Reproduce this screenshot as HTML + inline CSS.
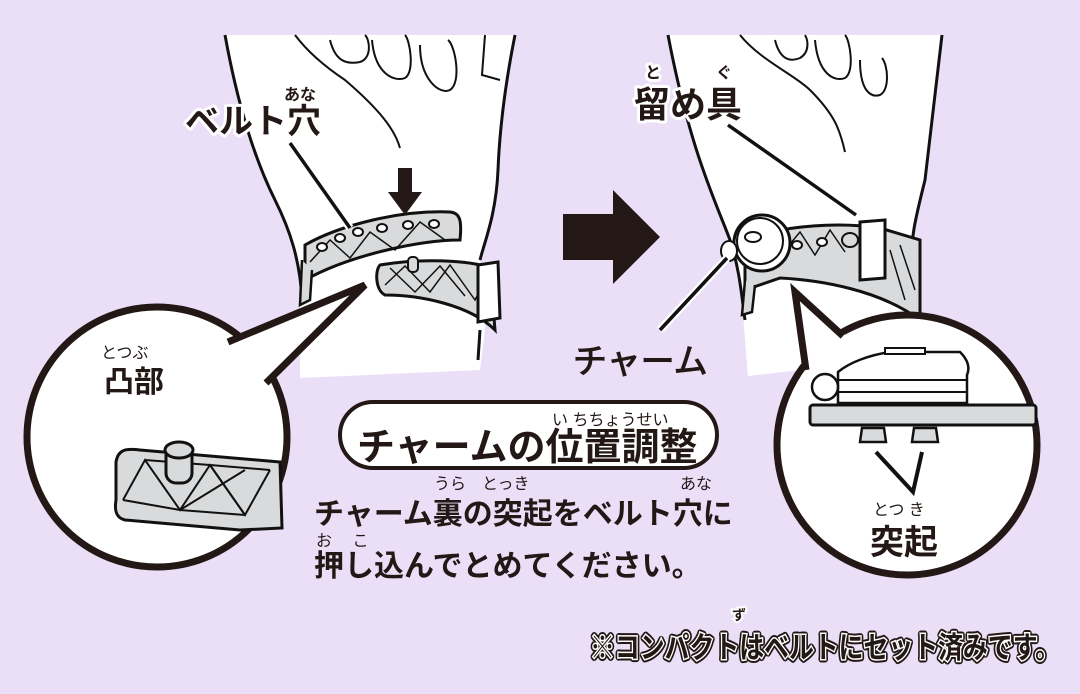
<!DOCTYPE html>
<html><head><meta charset="utf-8"><style>
html,body{margin:0;padding:0;background:#ebdff8;}
svg{display:block;}
text{font-family:"Liberation Sans","Noto Sans CJK JP",sans-serif;}
</style></head><body>
<svg width="1080" height="694" viewBox="0 0 1080 694" xmlns="http://www.w3.org/2000/svg">
<rect width="1080" height="694" fill="#ebdff8"/>
<!-- LEFT ARM -->
<path d="M225,35 L515,35 C508,70 500,120 498,170 C496,215 485,240 480,260 L485,330 L480,370 L300,378 L300,300 C300,260 290,230 275,200 C250,150 235,90 225,35 Z" fill="#fff"/>
<path d="M225,35 C235,90 250,150 275,200 C290,230 300,260 302,300" fill="none" stroke="#111" stroke-width="3"/>
<path d="M515,35 C508,70 500,120 498,170 C496,215 485,240 480,260" fill="none" stroke="#111" stroke-width="3"/>
<path d="M480,330 L478,360" stroke="#111" stroke-width="3"/>
<g fill="none" stroke="#111" stroke-width="2">
<path d="M295,35 C310,55 330,70 345,80 C380,110 395,130 400,148"/>
<path d="M330,40 C335,60 345,65 360,62 C372,58 370,40 365,35"/>
<path d="M372,40 C375,75 395,82 405,78 C415,72 410,40 405,35"/>
<path d="M420,45 C420,80 440,95 450,90 C462,82 455,45 448,40"/>
<path d="M485,35 L482,75 L500,80"/>
</g>
<path d="M305,245 C340,225 400,210 450,212 C460,213 462,220 460,240 C420,240 350,255 305,280 Z" fill="#d9dadb" stroke="#111" stroke-width="3"/>
<g stroke="#111" stroke-width="1.5" fill="none"><path d="M310,262 L330,240 L350,258 L370,232 L395,250 L420,222 L445,240"/></g>
<path d="M302,260 L300,305 L310,300 L312,270" fill="#d9dadb" stroke="#111" stroke-width="2.5"/>
<g fill="#fff" stroke="#111" stroke-width="2">
<ellipse cx="322" cy="247" rx="5" ry="4"/><ellipse cx="340" cy="238" rx="5" ry="4"/><ellipse cx="358" cy="232" rx="5" ry="4"/><ellipse cx="382" cy="228" rx="5" ry="4"/><ellipse cx="408" cy="225" rx="5" ry="4"/><ellipse cx="434" cy="224" rx="5" ry="4"/>
</g>
<path d="M380,265 C420,258 470,260 490,268 L495,330 C470,305 420,295 385,295 C375,290 375,270 380,265 Z" fill="#d9dadb" stroke="#111" stroke-width="3"/>
<g stroke="#111" stroke-width="1.5" fill="none"><path d="M385,285 L405,266 L430,292 L450,265 L475,300 L488,275"/><path d="M390,268 L415,292 L440,266 L465,296"/></g>
<rect x="408" y="257" width="10" height="15" rx="4" fill="#d9dadb" stroke="#111" stroke-width="2"/>
<path d="M478,265 L498,262 L500,318 L478,322 Z" fill="#fff" stroke="#111" stroke-width="3"/>
<path d="M398,168 L412,168 L412,192 L422,192 L405,215 L388,192 L398,192 Z" fill="#231815"/>
<line x1="290" y1="143" x2="350" y2="228" stroke="#fff" stroke-width="8"/>
<line x1="290" y1="143" x2="350" y2="228" stroke="#111" stroke-width="3.5"/>

<!-- LEFT BUBBLE -->
<circle cx="157" cy="437" r="130" fill="#fff" stroke="#231815" stroke-width="7"/>
<path d="M222,345 L365,285 L268,385 Z" fill="#fff"/>
<path d="M228,342 L365,285 L266,383" fill="none" stroke="#231815" stroke-width="7"/>
<path d="M116,462 C118,450 125,448 140,450 L280,462 L282,528 L240,530 L125,520 C117,518 114,512 116,500 Z" fill="#d9dadb" stroke="#111" stroke-width="3"/>
<g stroke="#111" stroke-width="2" fill="none">
<path d="M123,500 L145,460 L180,510 L210,465 L245,515 L270,470"/>
<path d="M123,500 L180,510 L245,515"/>
<path d="M145,460 L210,465 L270,470"/>
<path d="M180,510 L245,470 M210,465 L245,515"/>
</g>
<rect x="166" y="445" width="26" height="38" rx="10" fill="#d9dadb" stroke="#111" stroke-width="3"/>
<ellipse cx="179" cy="450" rx="14" ry="8" fill="#d9dadb" stroke="#111" stroke-width="3"/>

<path d="M563,214 L613,214 L613,190 L660,237 L613,284 L613,260 L563,260 Z" fill="#231815"/>

<!-- RIGHT ARM -->
<path d="M668,35 L942,35 C936,90 930,140 925,180 C915,220 910,240 915,270 L915,320 L800,370 L748,376 C742,300 740,270 730,240 C715,200 690,150 668,35 Z" fill="#fff"/>
<path d="M668,35 C690,150 715,200 730,240 C740,270 742,300 745,320" fill="none" stroke="#111" stroke-width="3"/>
<path d="M942,35 C936,90 930,140 925,180 C915,220 910,240 912,270" fill="none" stroke="#111" stroke-width="3"/>
<g fill="none" stroke="#111" stroke-width="2">
<path d="M740,35 C760,60 795,75 810,90 C835,115 840,130 845,152"/>
<path d="M775,40 C780,60 790,62 800,58 C810,52 808,40 805,35"/>
<path d="M815,40 C818,75 835,82 845,78 C855,72 850,40 845,35"/>
<path d="M860,60 C860,90 870,98 880,95 C890,90 888,65 882,58"/>
</g>
<path d="M745,238 C790,225 840,222 880,228 L920,240 L920,320 C880,290 820,280 780,278 L745,290 Z" fill="#d9dadb" stroke="#111" stroke-width="3"/>
<g stroke="#111" stroke-width="1.5" fill="none"><path d="M785,250 L800,232 L815,255 L830,230 L845,252"/><path d="M890,250 L905,300 M900,245 L915,290"/></g>
<path d="M745,280 L742,315 L752,312 L755,285" fill="#d9dadb" stroke="#111" stroke-width="2.5"/>
<g fill="#fff" stroke="#111" stroke-width="2"><ellipse cx="797" cy="245" rx="5" ry="4"/><ellipse cx="822" cy="242" rx="5" ry="4"/></g>
<ellipse cx="850" cy="240" rx="8" ry="7" fill="#d9dadb" stroke="#111" stroke-width="2"/>
<path d="M860,222 L885,220 L885,278 L860,280 Z" fill="#fff" stroke="#111" stroke-width="3"/>
<circle cx="762" cy="243" r="28" fill="#fff" stroke="#111" stroke-width="3"/>
<circle cx="760" cy="241" r="23" fill="#fff" stroke="#111" stroke-width="2"/>
<ellipse cx="753" cy="237" rx="8" ry="5" fill="#fff" stroke="#111" stroke-width="2"/>
<ellipse cx="729" cy="251" rx="8" ry="10" fill="#fff" stroke="#111" stroke-width="2"/>
<line x1="660" y1="330" x2="727" y2="258" stroke="#fff" stroke-width="8"/>
<line x1="660" y1="330" x2="727" y2="258" stroke="#111" stroke-width="3.5"/>
<line x1="728" y1="125" x2="856" y2="215" stroke="#fff" stroke-width="8"/>
<line x1="728" y1="125" x2="856" y2="215" stroke="#111" stroke-width="3.5"/>

<!-- RIGHT BUBBLE -->
<circle cx="907" cy="445" r="130" fill="#fff" stroke="#231815" stroke-width="7"/>
<path d="M795,292 L845,335 L808,370 Z" fill="#fff"/>
<path d="M843,336 L795,292 L806,370" fill="none" stroke="#231815" stroke-width="7"/>
<path d="M838,372 C850,362 870,355 890,352 L960,352 C968,360 970,368 967,375 L967,403 L838,403 Z" fill="#fff" stroke="#111" stroke-width="2.5"/>
<line x1="838" y1="380" x2="967" y2="380" stroke="#111" stroke-width="2"/>
<line x1="838" y1="392" x2="967" y2="392" stroke="#111" stroke-width="2"/>
<rect x="885" y="348" width="40" height="6" fill="#fff" stroke="#111" stroke-width="2"/>
<circle cx="825" cy="387" r="13" fill="#fff" stroke="#111" stroke-width="2.5"/>
<rect x="810" y="405" width="226" height="20" rx="3" fill="#d9dadb" stroke="#111" stroke-width="3"/>
<path d="M862,428 L884,428 L886,442 L860,442 Z" fill="#d9dadb" stroke="#111" stroke-width="2.5"/>
<path d="M914,428 L936,428 L938,442 L912,442 Z" fill="#d9dadb" stroke="#111" stroke-width="2.5"/>
<path d="M876,452 L913,492 L922,452" fill="none" stroke="#111" stroke-width="4"/>

<g font-weight="bold" fill="#231815" stroke="#fff" stroke-width="6" paint-order="stroke" stroke-linejoin="round">
<text x="284" y="100" font-size="16">あな</text>
<text x="185" y="133" font-size="34">ベルト穴</text>
<text x="645" y="78" font-size="16">と</text>
<text x="716" y="78" font-size="16">ぐ</text>
<text x="634" y="117" font-size="36">留め具</text>
</g>
<text x="101" y="358" font-size="16" fill="#231815">とつぶ</text>
<text x="104" y="392" font-size="30" font-weight="bold" fill="#231815">凸部</text>
<text x="573" y="373" font-size="34" fill="#231815" stroke="#231815" stroke-width="1">チャーム</text>
<text x="873" y="515" font-size="16" fill="#231815">とつ き</text>
<text x="870" y="554" font-size="34" font-weight="bold" fill="#231815">突起</text>

<rect x="340" y="402" width="377" height="66" rx="33" fill="#fff" stroke="#231815" stroke-width="4"/>
<text x="552" y="425" font-size="16" fill="#231815">い ちちょうせい</text>
<text x="357" y="460" font-size="38" font-weight="bold" fill="#231815">チャームの位置調整</text>
<text x="434" y="489" font-size="16" fill="#231815">うら　とっき</text>
<text x="680" y="489" font-size="16" fill="#231815">あな</text>
<text x="314" y="524" font-size="30" font-weight="bold" fill="#231815">チャーム裏の突起をベルト穴に</text>
<text x="316" y="546" font-size="16" fill="#231815">お　 こ</text>
<text x="314" y="576" font-size="30" font-weight="bold" fill="#231815">押し込んでとめてください。</text>

<text x="732" y="620" font-size="14" font-weight="bold" fill="#231815" stroke="#fff" stroke-width="4" paint-order="stroke">ず</text>
<text x="590" y="658" font-size="30" font-weight="bold" fill="#fff" stroke="#231815" stroke-width="7" paint-order="stroke" stroke-linejoin="round" textLength="470" lengthAdjust="spacingAndGlyphs">※コンパクトはベルトにセット済みです。</text>
<text x="590" y="658" font-size="30" font-weight="bold" fill="#231815" textLength="470" lengthAdjust="spacingAndGlyphs" stroke="#fff" stroke-width="3" paint-order="stroke">※コンパクトはベルトにセット済みです。</text>
</svg>
</body></html>
